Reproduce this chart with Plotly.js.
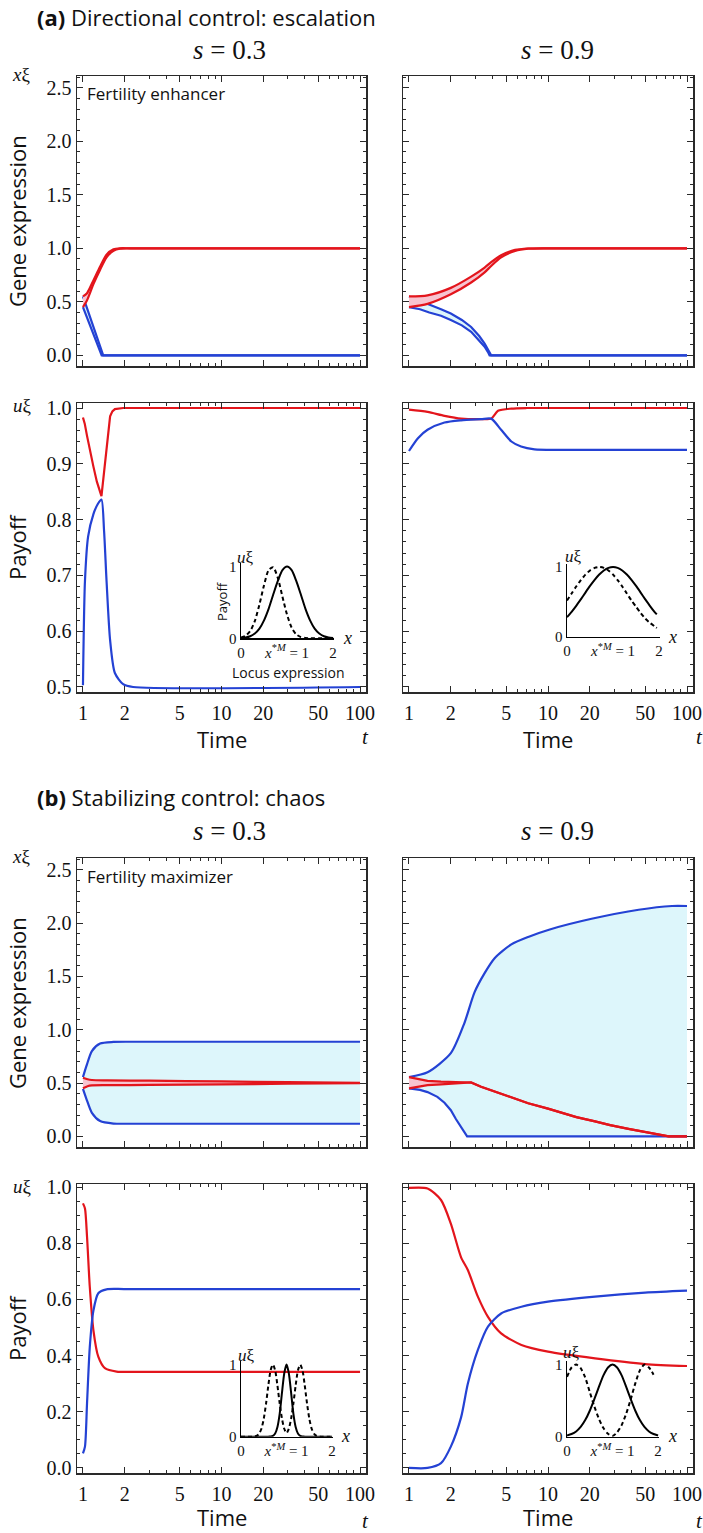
<!DOCTYPE html>
<html><head><meta charset="utf-8">
<script src="https://cdn.plot.ly/plotly-3.0.1.min.js"></script>
<style>html,body{margin:0;padding:0;background:#fff}#chart{width:703px;height:1533px}</style>
</head><body><div id="chart"></div>
<script>
// ---------------- DATA ----------------
// Time tick labels (log axis)
const timeTicks = [1, 2, 5, 10, 20, 50, 100];
const timeTickText = ['1', '2', '5', '10', '20', '50', '100'];
const timeMinorTicks = [3, 4, 6, 7, 8, 9, 30, 40, 60, 70, 80, 90];

// (a) Directional control, s = 0.3, gene expression
const a1_tRed = [1, 1.07, 1.19, 1.33, 1.48, 1.66, 1.85, 2.2, 100];
const a1_redHi = [0.55, 0.58, 0.70, 0.83, 0.94, 0.99, 1.0, 1.0, 1.0];
const a1_redLo = [0.45, 0.515, 0.665, 0.80, 0.915, 0.977, 0.997, 1.0, 1.0];
const a1_tBlue = [1, 1.19, 1.365, 1.40, 100];
const a1_blueHi = [0.55, 0.267, 0.034, 0, 0];
const a1_blueLo = [0.45, 0.198, 0, 0, 0];

// (a) s = 0.9, gene expression
const a2_tRed = [1, 1.36, 2.0, 2.8, 3.5, 3.9, 4.6, 5.8, 7.2, 10, 100];
const a2_redHi = [0.55, 0.56, 0.63, 0.735, 0.82, 0.87, 0.935, 0.985, 0.998, 1.0, 1.0];
const a2_redLo = [0.45, 0.48, 0.57, 0.68, 0.775, 0.835, 0.915, 0.975, 0.996, 1.0, 1.0];
const a2_tBlue = [1, 1.2, 1.4, 1.7, 2.0, 2.4, 2.8, 3.2, 3.5, 3.7, 3.8, 3.9, 100];
const a2_blueHi = [0.55, 0.51, 0.475, 0.43, 0.39, 0.33, 0.265, 0.18, 0.11, 0.06, 0.03, 0, 0];
const a2_blueLo = [0.45, 0.43, 0.40, 0.37, 0.33, 0.28, 0.22, 0.14, 0.08, 0.03, 0, 0, 0];

// (a) s = 0.3, payoff
const a3_tRed = [1, 1.03, 1.07, 1.12, 1.19, 1.26, 1.31, 1.36, 1.42, 1.48, 1.53, 1.57, 1.63, 1.70, 1.95, 100];
const a3_red = [0.983, 0.972, 0.95, 0.925, 0.895, 0.868, 0.853, 0.842, 0.885, 0.93, 0.965, 0.985, 0.994, 0.998, 1.0, 1.0];
const a3_tBlue = [1, 1.034, 1.09, 1.19, 1.28, 1.36, 1.42, 1.48, 1.57, 1.70, 1.95, 2.3, 100];
const a3_blue = [0.503, 0.69, 0.77, 0.81, 0.828, 0.836, 0.78, 0.69, 0.584, 0.525, 0.505, 0.5, 0.5];

// (a) s = 0.9, payoff
const a4_tRed = [1, 1.36, 1.8, 2.37, 3.3, 3.9, 4.37, 5.45, 7, 100];
const a4_red = [0.997, 0.993, 0.986, 0.981, 0.980, 0.981, 0.995, 0.999, 1.0, 1.0];
const a4_tBlue = [1, 1.16, 1.36, 1.8, 2.37, 3.3, 3.9, 4.6, 5.45, 6.4, 8.0, 12, 100];
const a4_blue = [0.923, 0.946, 0.961, 0.974, 0.978, 0.980, 0.981, 0.961, 0.940, 0.931, 0.926, 0.925, 0.925];

// (b) Stabilizing control, s = 0.3, gene expression
const b1_tBlue = [1, 1.06, 1.16, 1.33, 1.66, 2.2, 100];
const b1_blueHi = [0.555, 0.66, 0.80, 0.87, 0.885, 0.887, 0.887];
const b1_blueLo = [0.445, 0.35, 0.22, 0.143, 0.12, 0.118, 0.118];
const b1_tRed = [1, 1.08, 1.16, 1.5, 3, 10, 30, 100];
const b1_redHi = [0.55, 0.535, 0.528, 0.525, 0.522, 0.515, 0.508, 0.502];
const b1_redLo = [0.45, 0.47, 0.478, 0.48, 0.482, 0.487, 0.493, 0.498];

// (b) s = 0.9, gene expression
const b2_tBlueHi = [1, 1.36, 2.0, 2.5, 2.96, 3.5, 4.13, 5.45, 7.2, 10.3, 20.6, 44.9, 78, 100];
const b2_blueHi = [0.555, 0.60, 0.78, 1.06, 1.35, 1.53, 1.67, 1.80, 1.87, 1.94, 2.04, 2.125, 2.16, 2.16];
const b2_tBlueLo = [1, 1.2, 1.36, 1.6, 1.8, 2.0, 2.18, 2.4, 2.62, 100];
const b2_blueLo = [0.45, 0.435, 0.415, 0.37, 0.315, 0.245, 0.16, 0.08, 0, 0];
const b2_tRed = [1, 1.2, 1.36, 1.7, 2.0, 2.4, 2.8, 3.3, 4.13, 5.5, 7.2, 10, 12.5, 16, 21.8, 28, 37.9, 50, 62, 73.8, 100];
const b2_redHi = [0.555, 0.535, 0.52, 0.513, 0.51, 0.507, 0.505, 0.465, 0.42, 0.36, 0.31, 0.26, 0.22, 0.18, 0.14, 0.105, 0.07, 0.04, 0.018, 0.0, 0.0];
const b2_redLo = [0.45, 0.465, 0.48, 0.488, 0.495, 0.5, 0.505, 0.465, 0.42, 0.36, 0.31, 0.26, 0.22, 0.18, 0.14, 0.105, 0.07, 0.04, 0.018, 0.0, 0.0];

// (b) s = 0.3, payoff
const b3_tRed = [1, 1.034, 1.07, 1.12, 1.19, 1.29, 1.44, 1.75, 2.5, 100];
const b3_red = [0.942, 0.924, 0.823, 0.645, 0.49, 0.396, 0.355, 0.343, 0.342, 0.342];
const b3_tBlue = [1, 1.034, 1.07, 1.12, 1.19, 1.29, 1.48, 2, 100];
const b3_blue = [0.052, 0.076, 0.23, 0.43, 0.56, 0.622, 0.636, 0.637, 0.637];

// (b) s = 0.9, payoff
const b4_t = [1, 1.36, 1.70, 2.0, 2.37, 2.65, 3.13, 3.7, 4.6, 6.44, 10, 21.8, 50, 100];
const b4_red = [0.997, 0.995, 0.954, 0.87, 0.75, 0.705, 0.61, 0.538, 0.479, 0.438, 0.414, 0.39, 0.37, 0.363];
const b4_blue = [0.0, 0.0, 0.017, 0.076, 0.18, 0.30, 0.42, 0.503, 0.55, 0.574, 0.592, 0.61, 0.624, 0.631];

// Insets: payoff u vs locus expression x
const insX = [0, 0.1, 0.2, 0.3, 0.4, 0.5, 0.6, 0.7, 0.8, 0.9, 1.0, 1.1, 1.2, 1.3, 1.4, 1.5, 1.6, 1.7, 1.8, 1.9, 2.0];
const insA1_solid = [0.004, 0.011, 0.028, 0.066, 0.135, 0.25, 0.41, 0.61, 0.80, 0.95, 1.0, 0.95, 0.80, 0.61, 0.41, 0.25, 0.135, 0.066, 0.028, 0.011, 0.004];
const insA1_dash = [0.01, 0.035, 0.10, 0.24, 0.47, 0.74, 0.95, 0.99, 0.84, 0.58, 0.33, 0.15, 0.055, 0.017, 0.004, 0, 0, 0, 0, 0, 0];
const insA2_x = [0, 0.1, 0.2, 0.3, 0.4, 0.5, 0.6, 0.7, 0.8, 0.9, 1.0, 1.1, 1.2, 1.3, 1.4, 1.5, 1.6, 1.7, 1.8, 1.9, 1.95];
const insA2_solid = [0.28, 0.357, 0.443, 0.536, 0.633, 0.728, 0.816, 0.892, 0.95, 0.987, 1.0, 0.987, 0.95, 0.892, 0.816, 0.728, 0.633, 0.536, 0.443, 0.357, 0.32];
const insA2_dash = [0.52, 0.62, 0.72, 0.81, 0.89, 0.95, 0.987, 1.0, 0.987, 0.95, 0.89, 0.81, 0.72, 0.62, 0.52, 0.43, 0.34, 0.26, 0.20, 0.15, 0.125];
const insB1_x = [0, 0.05, 0.1, 0.15, 0.2, 0.25, 0.3, 0.35, 0.4, 0.45, 0.5, 0.55, 0.6, 0.65, 0.7, 0.75, 0.8, 0.85, 0.9, 0.95, 1.0,
                 1.05, 1.1, 1.15, 1.2, 1.25, 1.3, 1.35, 1.4, 1.45, 1.5, 1.55, 1.6, 1.65, 1.7, 1.75, 1.8, 1.85, 1.9, 1.95, 2.0];
const insB1_solid = [0, 0, 0, 0, 0, 0, 0, 0, 0, 0, 0, 0, 0.001, 0.002, 0.011, 0.044, 0.135, 0.32, 0.61, 0.88, 1,
                     0.88, 0.61, 0.32, 0.135, 0.044, 0.011, 0.002, 0.001, 0, 0, 0, 0, 0, 0, 0, 0, 0, 0, 0, 0];
const insB1_dash = [0, 0, 0, 0, 0, 0.001, 0.004, 0.014, 0.044, 0.114, 0.25, 0.46, 0.71, 0.92, 1, 0.92, 0.71, 0.46, 0.25, 0.11, 0.05,
                    0.11, 0.25, 0.46, 0.71, 0.92, 1, 0.92, 0.71, 0.46, 0.25, 0.114, 0.044, 0.014, 0.004, 0.001, 0, 0, 0, 0, 0];
const insB2_solid = [0.017, 0.037, 0.073, 0.135, 0.23, 0.36, 0.52, 0.69, 0.85, 0.96, 1, 0.96, 0.85, 0.69, 0.52, 0.36, 0.23, 0.135, 0.073, 0.037, 0.017];
const insB2_dashX = [0, 0.1, 0.2, 0.3, 0.4, 0.5, 0.6, 0.7, 0.8, 0.9, 1.0, 1.1, 1.2, 1.3, 1.4, 1.5, 1.6, 1.7, 1.8, 1.9];
const insB2_dash = [0.83, 0.96, 1.0, 0.95, 0.82, 0.62, 0.42, 0.25, 0.12, 0.04, 0.01, 0.06, 0.16, 0.32, 0.52, 0.74, 0.92, 1.0, 0.96, 0.86];

// ---------------- STYLE / LAYOUT ----------------
const W = 703, H = 1533;
const px = v => v / W, py = v => 1 - v / H;
const RED = '#e3151c', BLUE = '#2442d4', PINK = '#f7c4d0', CYAN = '#ddf6fb';
const SANS = 'Open Sans, Noto Sans, DejaVu Sans, sans-serif';
const SERIF = '"Liberation Serif", "Times New Roman", "DejaVu Serif", serif';
const FRAME = '#2a2a2a';

const ax = (k, n) => k + (n === 1 ? '' : n);
const traces = [];
function addLine(n, x, y, color, opts) {
  opts = opts || {};
  const t = {
    type: 'scatter', mode: 'lines', x: x, y: y, xaxis: ax('x', n), yaxis: ax('y', n),
    line: {color: color, width: opts.width || 2.2, shape: opts.shape || 'spline', smoothing: 0.7, dash: opts.dash || 'solid'},
    hoverinfo: 'skip', showlegend: false
  };
  if (opts.fill) { t.fill = 'tonexty'; t.fillcolor = opts.fill; }
  traces.push(t);
}

// (a) gene s=0.3
addLine(1, a1_tBlue, a1_blueLo, BLUE, {shape: 'linear'});
addLine(1, a1_tBlue, a1_blueHi, BLUE, {shape: 'linear', fill: CYAN});
addLine(1, a1_tRed, a1_redLo, RED);
addLine(1, a1_tRed, a1_redHi, RED, {fill: PINK});
// (a) gene s=0.9
addLine(2, a2_tBlue, a2_blueLo, BLUE, {shape: 'linear'});
addLine(2, a2_tBlue, a2_blueHi, BLUE, {shape: 'linear', fill: CYAN});
addLine(2, a2_tRed, a2_redLo, RED);
addLine(2, a2_tRed, a2_redHi, RED, {fill: PINK});
// (a) payoff
addLine(3, a3_tRed, a3_red, RED, {shape: 'linear'});
addLine(3, a3_tBlue, a3_blue, BLUE);
addLine(4, a4_tRed, a4_red, RED);
addLine(4, a4_tBlue, a4_blue, BLUE);
// (b) gene s=0.3
addLine(5, b1_tBlue, b1_blueLo, BLUE);
addLine(5, b1_tBlue, b1_blueHi, BLUE, {fill: CYAN});
addLine(5, b1_tRed, b1_redLo, RED);
addLine(5, b1_tRed, b1_redHi, RED, {fill: PINK});
// (b) gene s=0.9
addLine(6, b2_tBlueLo, b2_blueLo, BLUE, {shape: 'linear'});
addLine(6, b2_tBlueHi, b2_blueHi, BLUE, {fill: CYAN});
addLine(6, b2_tRed, b2_redLo, RED, {shape: 'linear'});
addLine(6, b2_tRed, b2_redHi, RED, {shape: 'linear', fill: PINK});
// (b) payoff
addLine(7, b3_tRed, b3_red, RED);
addLine(7, b3_tBlue, b3_blue, BLUE);
addLine(8, b4_t, b4_red, RED);
addLine(8, b4_t, b4_blue, BLUE);
// insets
const DASH = '4px,3px';
addLine(9, insX, insA1_solid, '#000', {width: 2});
addLine(9, insX, insA1_dash, '#000', {width: 2, dash: DASH});
addLine(10, insA2_x, insA2_solid, '#000', {width: 2});
addLine(10, insA2_x, insA2_dash, '#000', {width: 2, dash: DASH});
addLine(11, insB1_x, insB1_solid, '#000', {width: 2});
addLine(11, insB1_x, insB1_dash, '#000', {width: 2, dash: DASH});
addLine(12, insX, insB2_solid, '#000', {width: 2});
addLine(12, insB2_dashX, insB2_dash, '#000', {width: 2, dash: DASH});

const layout = {
  width: W, height: H, margin: {l: 0, r: 0, t: 0, b: 0},
  paper_bgcolor: '#fff', plot_bgcolor: 'rgba(0,0,0,0)', showlegend: false,
  font: {family: SERIF, color: '#111'},
  annotations: []
};

const yKinds = {
  gene: {range: [-0.1, 2.61], tick0: 0, dtick: 0.5, tickformat: '.1f', minor: 0.1},
  payA: {range: [0.491, 1.009], tick0: 0.5, dtick: 0.1, tickformat: '.1f', minor: 0.02},
  payB: {range: [-0.018, 1.011], tick0: 0, dtick: 0.2, tickformat: '.1f', minor: 0.05}
};
const panels = [
  {n: 1, x: [77, 366], y: [76, 366], k: 'gene', xl: false, yl: true},
  {n: 2, x: [403, 693], y: [76, 366], k: 'gene', xl: false, yl: false},
  {n: 3, x: [77, 366], y: [403, 692], k: 'payA', xl: true, yl: true},
  {n: 4, x: [403, 693], y: [403, 692], k: 'payA', xl: true, yl: false},
  {n: 5, x: [77, 366], y: [858, 1147], k: 'gene', xl: false, yl: true},
  {n: 6, x: [403, 693], y: [858, 1147], k: 'gene', xl: false, yl: false},
  {n: 7, x: [77, 366], y: [1184, 1473], k: 'payB', xl: true, yl: true},
  {n: 8, x: [403, 693], y: [1184, 1473], k: 'payB', xl: true, yl: false}
];
panels.forEach(p => {
  const yk = yKinds[p.k];
  layout['xaxis' + (p.n === 1 ? '' : p.n)] = {
    type: 'log', domain: [px(p.x[0]), px(p.x[1])], range: [-0.043, 2.043], anchor: ax('y', p.n),
    tickmode: 'array', tickvals: timeTicks, ticktext: timeTickText, showticklabels: p.xl,
    ticks: 'inside', ticklen: 6, tickwidth: 1, tickcolor: FRAME, mirror: 'ticks', ticklabelstandoff: 2,
    showline: true, linecolor: FRAME, linewidth: 1.5, showgrid: false, zeroline: false,
    tickfont: {family: SERIF, size: 20, color: '#111'},
    minor: {tickmode: 'array', tickvals: timeMinorTicks, ticks: 'inside', ticklen: 3, tickwidth: 1, tickcolor: FRAME, showgrid: false}
  };
  layout['yaxis' + (p.n === 1 ? '' : p.n)] = {
    domain: [py(p.y[1]), py(p.y[0])], range: yk.range, anchor: ax('x', p.n),
    tickmode: 'linear', tick0: yk.tick0, dtick: yk.dtick, tickformat: yk.tickformat, showticklabels: p.yl,
    ticks: 'inside', ticklen: 6, tickwidth: 1, tickcolor: FRAME, mirror: 'ticks',
    showline: true, linecolor: FRAME, linewidth: 1.5, showgrid: false, zeroline: false,
    tickfont: {family: SERIF, size: 20, color: '#111'},
    minor: {tick0: 0, dtick: yk.minor, ticks: 'inside', ticklen: 3, tickwidth: 1, tickcolor: FRAME, showgrid: false}
  };
});

const insets = [
  {n: 9, x: [241, 334], y: [563, 638.3], u: [245, 557], xl: [347, 638]},
  {n: 10, x: [567, 660], y: [563.5, 636.7], u: [573, 556], xl: [672, 637]},
  {n: 11, x: [241, 333], y: [1361, 1436.7], u: [246, 1355], xl: [345, 1436]},
  {n: 12, x: [567, 659], y: [1361, 1436.7], u: [571, 1352], xl: [672, 1436]}
];
insets.forEach(p => {
  layout['xaxis' + p.n] = {
    domain: [px(p.x[0]), px(p.x[1])], range: [0, 2.02], anchor: 'y' + p.n,
    tickmode: 'array', tickvals: [0, 1, 2], ticktext: ['0', '<i>x</i><sup>*<i>M</i></sup> = 1', '2'],
    ticks: '', showline: true, linecolor: '#000', linewidth: 1.4, showgrid: false, zeroline: false,
    tickfont: {family: SERIF, size: 15, color: '#111'}
  };
  layout['yaxis' + p.n] = {
    domain: [py(p.y[1]), py(p.y[0])], range: [0, 1.05], anchor: 'x' + p.n,
    tickmode: 'array', tickvals: [0, 1], ticktext: ['0', '1'],
    ticks: '', showline: true, linecolor: '#000', linewidth: 1.4, showgrid: false, zeroline: false,
    tickfont: {family: SERIF, size: 15, color: '#111'}
  };
});

function note(x, y, text, font, extra) {
  layout.annotations.push(Object.assign({xref: 'paper', yref: 'paper', x: px(x), y: py(y), text: text,
    showarrow: false, xanchor: 'center', yanchor: 'middle', font: font}, extra || {}));
}
insets.forEach(p => {
  note(p.u[0], p.u[1], '<i>u</i>ξ', {family: SERIF, size: 17, color: '#111'});
  note(p.xl[0], p.xl[1], '<i>x</i>', {family: SERIF, size: 18, color: '#111'});
});
const headFont = {family: SANS, size: 22, color: '#111'};
const sFont = {family: SERIF, size: 27, color: '#111'};
const labFont = {family: SANS, size: 22, color: '#111'};
const varFont = {family: SERIF, size: 19, color: '#111'};

note(35, 17, '<b>(a)</b> Directional control: escalation', headFont, {xanchor: 'left'});
note(35, 797, '<b>(b)</b> Stabilizing control: chaos', headFont, {xanchor: 'left'});
[50, 831].forEach(y => {
  note(229, y, '<i>s</i> = 0.3', sFont);
  note(557, y, '<i>s</i> = 0.9', sFont);
});
note(17, 221, 'Gene expression', labFont, {textangle: -90});
note(17, 547, 'Payoff', labFont, {textangle: -90});
note(17, 1003, 'Gene expression', labFont, {textangle: -90});
note(17, 1328, 'Payoff', labFont, {textangle: -90});
note(21, 74, '<i>x</i>ξ', varFont);
note(22, 405, '<i>u</i>ξ', varFont);
note(21, 856, '<i>x</i>ξ', varFont);
note(22, 1186, '<i>u</i>ξ', varFont);
note(222, 722, 'Time', labFont, {yanchor: 'top'});
note(548, 722, 'Time', labFont, {yanchor: 'top'});
note(222, 1517, 'Time', labFont);
note(548, 1517, 'Time', labFont);
[723, 1507].forEach(y => {
  note(366, y, '<i>t</i>', {family: SERIF, size: 21, color: '#111'}, {yanchor: 'top'});
  note(699, y, '<i>t</i>', {family: SERIF, size: 21, color: '#111'}, {yanchor: 'top'});
});
note(85, 93, 'Fertility enhancer', {family: SANS, size: 17, color: '#111'}, {xanchor: 'left'});
note(85, 876, 'Fertility maximizer', {family: SANS, size: 17, color: '#111'}, {xanchor: 'left'});
note(222, 602, 'Payoff', {family: SANS, size: 13, color: '#111'}, {textangle: -90});
note(288, 661, 'Locus expression', {family: SANS, size: 14, color: '#111'}, {yanchor: 'top'});

Plotly.newPlot('chart', traces, layout, {staticPlot: true, displayModeBar: false});
</script>
</body></html>
